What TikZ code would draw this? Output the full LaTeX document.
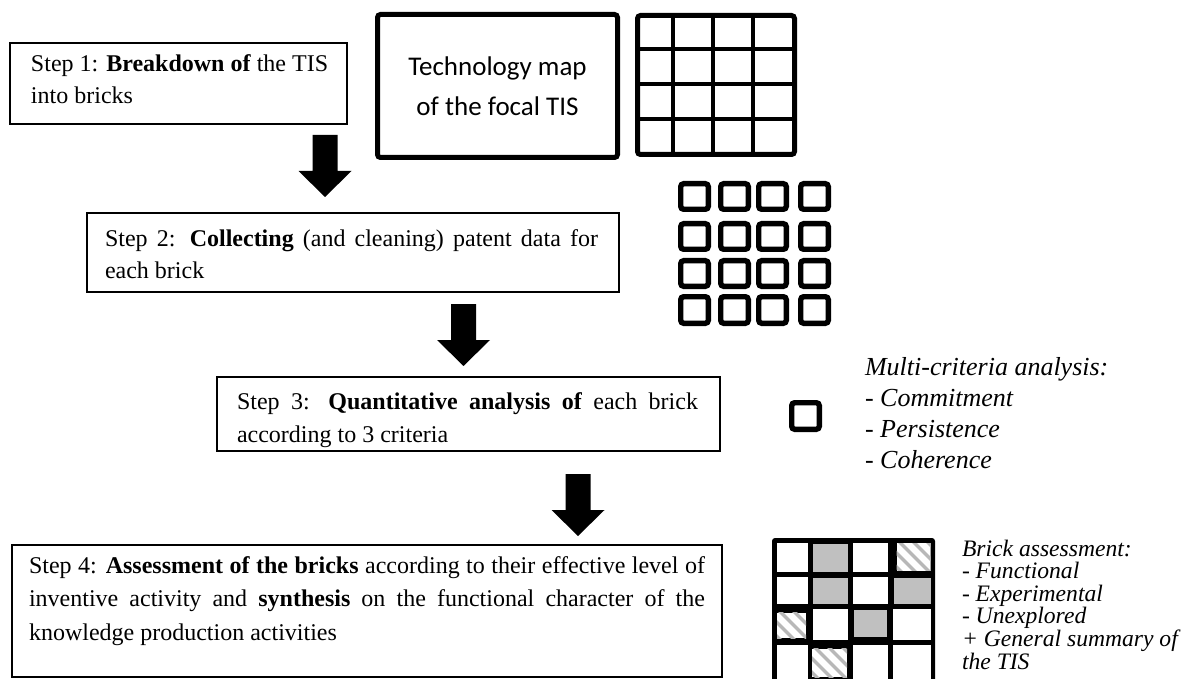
\documentclass[tikz,border=0pt]{standalone}
\usepackage{fontspec}
\setmainfont{Liberation Serif}
\newfontfamily\calibrifont{Carlito}
\usetikzlibrary{calc}
\definecolor{cellgray}{HTML}{C0C0C0}
\definecolor{hatchgray}{HTML}{B8B8B8}
\newcommand\hatchcell[4]{%
  \begin{scope}
    \clip (#1,#2) rectangle (#3,#4);
    \fill[white] (#1,#2) rectangle (#3,#4);
    \foreach \k in {-42,-28,...,42} \draw[hatchline] ($(#1,#2)+(\k,-4)$) -- ++(50,50);
  \end{scope}}
\begin{document}
\begin{tikzpicture}[x=0.5pt,y=-0.5pt,
  stepbox/.style={draw, line width=0.6pt, inner sep=0, outer sep=0},
  steptext/.style={anchor=base west, inner sep=0, outer sep=0},
  techbox/.style={draw, line width=2.5pt, rounded corners=1.5pt, inner sep=0, align=center,
     font=\calibrifont\fontsize{13.5}{20}\selectfont},
  thickline/.style={line width=2.5pt, rounded corners=1.5pt},
  gridline/.style={line width=2pt},
  brick/.style={draw, line width=2.7pt, rounded corners=1.5pt},
  hatchline/.style={draw=hatchgray, line width=1.7pt},
  sidetext/.style={anchor=base west, inner sep=0, outer sep=0},
  downarr/.pic={\fill[black] (-12.5,0) -- (12.5,0) -- (12.5,36) -- (26.5,36) -- (0,62) -- (-26.5,36) -- (-12.5,36) -- cycle;}
]
\useasboundingbox (0,0) rectangle (1193,679);

% Step 1
\node[stepbox, minimum width=168.5pt, minimum height=40.5pt] (s1) at (178.5,83.5) {};
\node[steptext] (s1t) at (31,72) {\fontsize{12}{16}\selectfont\parbox[t]{150pt}{\raggedright Step 1: \textbf{Breakdown of} the TIS\\into bricks}};

% Technology map
\node[techbox, minimum width=120pt, minimum height=71.5pt] (tech) at (497.5,86) {Technology map\\of the focal TIS};

% big grid
\draw[thickline] (637.5,15.5) rectangle (794.5,154.5);
\foreach \x in {673.3,713.3,753.3} \draw[gridline] (\x,15.5) -- (\x,154.5);
\foreach \y in {49.3,84.3,119.3} \draw[gridline] (637.5,\y) -- (794.5,\y);

% arrow 1
\pic at (325,135) {downarr};

% Step 2
\node[stepbox, minimum width=266pt, minimum height=39.5pt] (s2) at (353,252.5) {};
\node[steptext] (s2t) at (105,247) {\fontsize{12}{16}\selectfont\parbox[t]{246.5pt}{Step 2: \textbf{Collecting} (and cleaning) patent data for\linebreak each brick}};

% small bricks
\foreach \xa/\xb in {678/711,718/751,756/789,798/831}
  \foreach \ya/\yb in {181/212,221/252,258/289,294/326}
    \draw[brick] (\xa+2.7,\ya+2.7) rectangle (\xb-2.7,\yb-2.7);

% arrow 2
\pic at (463.5,304) {downarr};

% Step 3
\begin{scope}
  \clip (217,377) rectangle (720,450.5);
  \node[steptext] (s3t) at (237,409) {\fontsize{12}{16.5}\selectfont\parbox[t]{230.5pt}{Step 3: \textbf{Quantitative analysis of} each brick\linebreak according to 3 criteria}};
\end{scope}
\node[stepbox, minimum width=251.5pt, minimum height=37pt] (s3) at (468.5,414) {};

% single brick + multi-criteria text
\draw[brick] (791.7,402.7) rectangle (819.3,429.3);
\node[sidetext] (mc) at (865,375) {\fontsize{13}{15.5}\selectfont\itshape\parbox[t]{140pt}{Multi-criteria analysis:\\- Commitment\\- Persistence\\- Coherence}};

% arrow 3
\pic at (578,474) {downarr};

% Step 4
\node[stepbox, minimum width=355pt, minimum height=66pt] (s4) at (367,611) {};
\node[steptext] (s4t) at (29,573) {\fontsize{12}{16.75}\selectfont\parbox[t]{338pt}{Step 4: \textbf{Assessment of the bricks} according to their effective level of\linebreak inventive activity and \textbf{synthesis} on the functional character of the\linebreak knowledge production activities}};

% assessment grid
\fill[black, rounded corners=1.5pt] (772,538) rectangle (935,690);
% row 1
\fill[white] (776.5,543) rectangle (808,572);
\fill[cellgray] (812.5,543.5) rectangle (848,571.5);
\fill[white] (853,543) rectangle (887.5,572);
\hatchcell{896.5}{543}{930.5}{570.5}
% row 2
\fill[white] (776.5,577) rectangle (808,604);
\fill[cellgray] (812.5,577.5) rectangle (848,603.5);
\fill[white] (853,577) rectangle (887.5,604);
\fill[cellgray] (894,577.5) rectangle (930.5,603.5);
% row 3
\hatchcell{777}{612.5}{806}{638}
\fill[white] (812.5,609) rectangle (848,640);
\fill[cellgray] (853.5,609.5) rectangle (887,637);
\fill[white] (893,609) rectangle (930.5,640);
% row 4
\fill[white] (776.5,645) rectangle (808,679);
\hatchcell{812}{648.5}{847}{677}
\fill[white] (853,645) rectangle (887.5,679);
\fill[white] (893,645) rectangle (930.5,679);

\node[sidetext] (ba) at (962,556) {\fontsize{11.8}{11.3}\selectfont\itshape\parbox[t]{120pt}{Brick assessment:\\- Functional\\- Experimental\\- Unexplored\\+ General summary of\\the TIS}};
\end{tikzpicture}
\end{document}
